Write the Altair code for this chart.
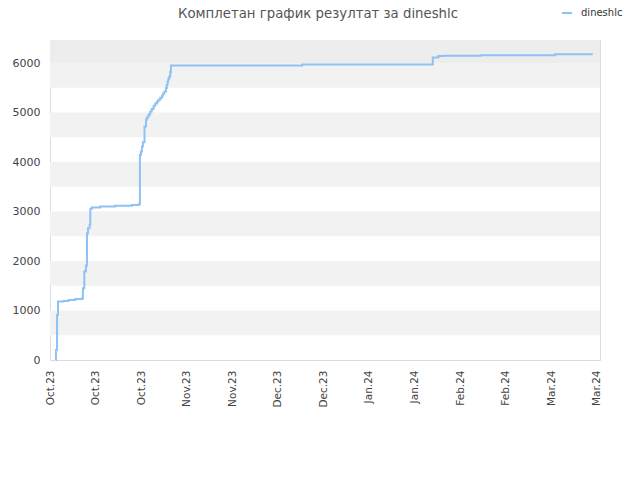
import altair as alt
import pandas as pd

# ---- data ----
dates = [
    "2023-10-02T19:00", "2023-10-02T20:00", "2023-10-03T04:00", "2023-10-03T11:00",
    "2023-10-05T04:00", "2023-10-06T17:00", "2023-10-08T18:00", "2023-10-10T22:00",
    "2023-10-11T03:00", "2023-10-11T13:00", "2023-10-12T01:00", "2023-10-12T09:00",
    "2023-10-12T16:00", "2023-10-13T04:00", "2023-10-13T09:00", "2023-10-13T22:00",
    "2023-10-16T11:00", "2023-10-21T01:00", "2023-10-26T04:00", "2023-10-28T06:00",
    "2023-10-28T15:00", "2023-10-28T23:00", "2023-10-29T06:00", "2023-10-29T13:00",
    "2023-10-30T01:00", "2023-10-30T12:00", "2023-10-30T18:00", "2023-10-31T00:00",
    "2023-10-31T08:00", "2023-10-31T19:00", "2023-11-01T06:00", "2023-11-01T20:00",
    "2023-11-02T08:00", "2023-11-02T21:00", "2023-11-03T08:00", "2023-11-03T21:00",
    "2023-11-04T10:00", "2023-11-04T17:00", "2023-11-05T02:00", "2023-11-05T15:00",
    "2023-11-05T21:00", "2023-11-06T03:00", "2023-11-06T09:00", "2023-11-06T15:00",
    "2023-11-06T23:00", "2023-11-07T04:00", "2023-12-17T12:00", "2024-01-26T15:00",
    "2024-01-28T08:00", "2024-01-29T21:00", "2024-02-10T11:00", "2024-03-04T05:00",
    "2024-03-15T18:00",
]
scores = [
    0, 202, 910, 1180,
    1193, 1213, 1233, 1247,
    1450, 1786, 1907, 2562,
    2663, 2730, 3054, 3080,
    3100, 3114, 3134, 3148,
    4145, 4212, 4313, 4400,
    4718, 4853, 4890, 4920,
    4960, 5021, 5070, 5136,
    5180, 5220, 5258, 5300,
    5340, 5379, 5420, 5493,
    5560, 5628, 5680, 5729,
    5820, 5951, 5972, 6113,
    6140, 6148, 6155, 6175,
    6175,
]
series_name = "dineshlc"
title_text = ["Комплетан график резултат за dineshlc"]

y_ticks = [0, 500, 1000, 1500, 2000, 2500, 3000, 3500, 4000, 4500, 5000, 5500, 6000]
x_tick_dates = pd.date_range("2023-10-01", periods=13, freq="14D")
x_domain = ["2023-10-01", "2024-03-18"]
y_max = 6465

band_lo = [500, 1500, 2500, 3500, 4500, 5500, 6000]
band_hi = [1000, 2000, 3000, 4000, 5000, 6000, 6465]
band_fill = ["#f2f2f2"] * 6 + ["#ededed"]

# ---- tables ----
df = pd.DataFrame({"date": pd.to_datetime(dates), "score": scores, "series": series_name})
bands = pd.DataFrame({"lo": band_lo, "hi": band_hi, "fill": band_fill})
titles = pd.DataFrame({"t": title_text})

x_ms = [int(pd.Timestamp(d).value // 10**6) for d in x_tick_dates]
dom_ms = [int(pd.Timestamp(d).value // 10**6) for d in x_domain]

FONT = "DejaVu Sans"

band_layer = alt.Chart(bands).mark_rect().encode(
    x=alt.value(0),
    x2=alt.value(550),
    y=alt.Y("lo:Q", scale=alt.Scale(domain=[0, y_max], nice=False)),
    y2="hi:Q",
    fill=alt.Fill("fill:N", scale=None),
)

line_layer = alt.Chart(df).mark_line(interpolate="step-after", strokeWidth=2).encode(
    x=alt.X(
        "date:T",
        scale=alt.Scale(type="utc", domain=dom_ms, nice=False),
        axis=alt.Axis(
            values=x_ms,
            labelExpr="utcFormat(datum.value, '%b.%y')",
            labelAngle=-90,
            labelFontSize=10.5,
            labelColor="#444",
            labelFont=FONT,
            labelPadding=10,
            ticks=False,
            domain=False,
            grid=False,
            title=None,
        ),
    ),
    y=alt.Y(
        "score:Q",
        scale=alt.Scale(domain=[0, y_max], nice=False),
        axis=alt.Axis(
            values=y_ticks,
            format="d",
            labelFontSize=11,
            labelColor="#444",
            labelFont=FONT,
            labelPadding=10,
            ticks=False,
            domain=False,
            grid=True,
            gridColor="#dcdcdc",
            title=None,
        ),
    ),
    color=alt.Color(
        "series:N",
        scale=alt.Scale(range=["#8fc2f4"]),
        legend=alt.Legend(
            title=None,
            orient="none",
            legendX=511,
            legendY=-33,
            symbolType="stroke",
            symbolStrokeWidth=2,
            symbolSize=100,
            labelFontSize=10,
            labelColor="#333",
            labelFont=FONT,
            labelOffset=8,
        ),
    ),
)

title_layer = alt.Chart(titles).mark_text(
    font=FONT, fontSize=13.3, color="#555", align="center", baseline="alphabetic"
).encode(
    text="t:N",
    x=alt.value(268),
    y=alt.value(-22),
)

chart = alt.layer(band_layer, line_layer, title_layer).properties(
    width=550,
    height=320,
    autosize=alt.AutoSizeParams(type="none"),
    padding={"left": 42, "top": 32, "right": 32, "bottom": 112},
).configure_view(stroke="#d8d8d8", strokeWidth=1).configure(background="white")

chart.save("out.html", embed_options={"renderer": "svg", "actions": False})
